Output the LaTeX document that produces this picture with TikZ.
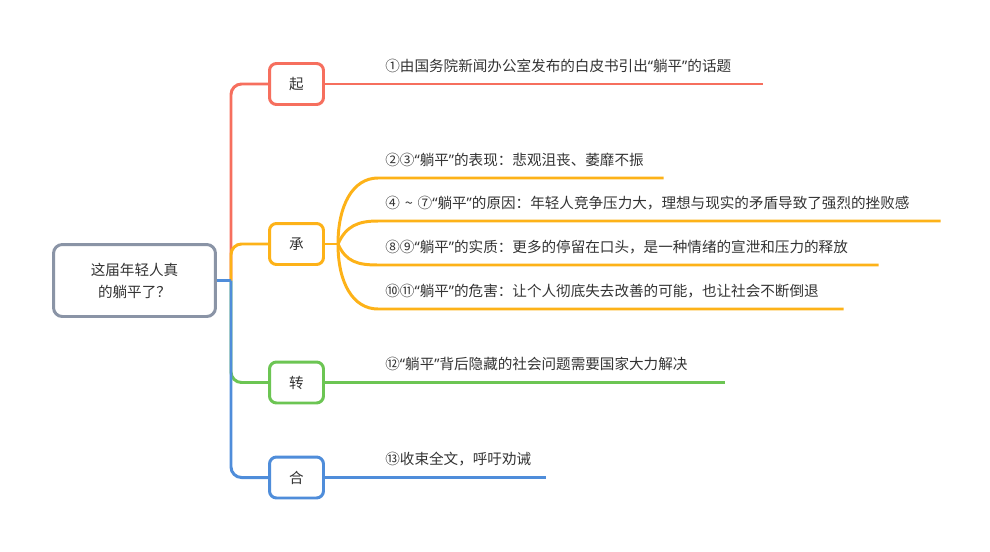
\documentclass[tikz,border=0pt]{standalone}
\usepackage{fontspec}
\setmainfont{Noto Sans CJK SC}
\newfontfamily\quotefont{Noto Sans}
\usepackage{xcolor}
\definecolor{topic-gray}{HTML}{8A94A6}
\definecolor{qi-red}{HTML}{F66F5E}
\definecolor{cheng-orange}{HTML}{FDB218}
\definecolor{zhuan-green}{HTML}{6CC553}
\definecolor{he-blue}{HTML}{4F8DDA}
\definecolor{ink}{HTML}{333333}
\newcommand\tangping{{\quotefont “}躺平{\quotefont ”}}

\begin{document}
\begin{tikzpicture}[x=0.02cm, y=-0.02cm,
    every node/.style={font=\fontsize{8.3pt}{12.5pt}\selectfont, text=ink},
    part/.style={draw, line width=1.7pt, fill=white, rounded corners=4pt,
                 minimum width=1.08cm, minimum height=0.82cm},
    leaf/.style={anchor=south west, inner xsep=0.14cm, inner ysep=5.2pt,
                 text height=6pt, text depth=2pt, text width=#1, align=left},
    branch/.style={line width=1.7pt}]
    % Mind map: topic on the left, four parts (qi, cheng, zhuan, he) on a trunk.
    % Coordinates in pixels of a 990 x 551 canvas, y pointing down:
    %   topic at (134.5,280.5), trunk x=231, parts at x=296.5
    %   leaves start at x=378, their underline sits at the part's y
    \useasboundingbox (0,0) rectangle (990,551);
    \coordinate (trunk) at (231,280.5);
    \coordinate (fork) at (338,244);

    \node[part, draw=topic-gray, minimum width=3.24cm, minimum height=1.44cm,
          rounded corners=5pt, align=center] (topic) at (134.5,280.5)
          {这届年轻人真\\的躺平了？};
    \node[part, draw=qi-red] (qi) at (296.5,84) {起};
    \node[part, draw=cheng-orange] (cheng) at (296.5,244) {承};
    \node[part, draw=zhuan-green] (zhuan) at (296.5,382.5) {转};
    \node[part, draw=he-blue] (he) at (296.5,477.5) {合};

    \node[leaf=7.4cm] (qi1) at (378,84) {①由国务院新闻办公室发布的白皮书引出\tangping 的话题};
    \node[leaf=5.42cm] (cheng1) at (378,178) {②③\tangping 的表现：悲观沮丧、萎靡不振};
    \node[leaf=10.96cm] (cheng2) at (378,221)
          {\mbox{④ \textasciitilde{} ⑦\tangping 的原因：年轻人竞争压力大，理想与现实的矛盾导致了强烈的挫败感}};
    \node[leaf=9.72cm] (cheng3) at (378,265) {⑧⑨\tangping 的实质：更多的停留在口头，是一种情绪的宣泄和压力的释放};
    \node[leaf=9.02cm] (cheng4) at (378,309) {⑩⑪\tangping 的危害：让个人彻底失去改善的可能，也让社会不断倒退};
    \node[leaf=6.64cm] (zhuan1) at (378,382.5) {⑫\tangping 背后隐藏的社会问题需要国家大力解决};
    \node[leaf=3.06cm] (he1) at (378,477.5) {⑬收束全文，呼吁劝诫};

    % trunk, red first so the others lie over it
    \draw[branch, qi-red, rounded corners=6pt] (trunk) |- (qi.west);
    \draw[branch, zhuan-green, rounded corners=6pt] (trunk) |- (zhuan.west);
    \draw[branch, cheng-orange, rounded corners=6pt] (trunk) |- (cheng.west);
    \draw[branch, he-blue] (topic.east) -- (trunk);
    \draw[branch, he-blue, rounded corners=6pt] (trunk) |- (he.west);

    % leaves
    \draw[branch, qi-red] (qi.east) -- (qi1.south west) -- (qi1.south east);
    \draw[branch, zhuan-green] (zhuan.east) -- (zhuan1.south west) -- (zhuan1.south east);
    \draw[branch, he-blue] (he.east) -- (he1.south west) -- (he1.south east);
    \draw[branch, cheng-orange] (cheng.east) -- (fork);
    \draw[branch, cheng-orange] (fork) .. controls +(0,-39) and +(-25,0) .. (cheng1.south west) -- (cheng1.south east);
    \draw[branch, cheng-orange] (fork) .. controls +(8,-18) and +(-20,0) .. (cheng2.south west) -- (cheng2.south east);
    \draw[branch, cheng-orange] (fork) .. controls +(8,18) and +(-20,0) .. (cheng3.south west) -- (cheng3.south east);
    \draw[branch, cheng-orange] (fork) .. controls +(0,39) and +(-25,0) .. (cheng4.south west) -- (cheng4.south east);
  \end{tikzpicture}
\end{document}
